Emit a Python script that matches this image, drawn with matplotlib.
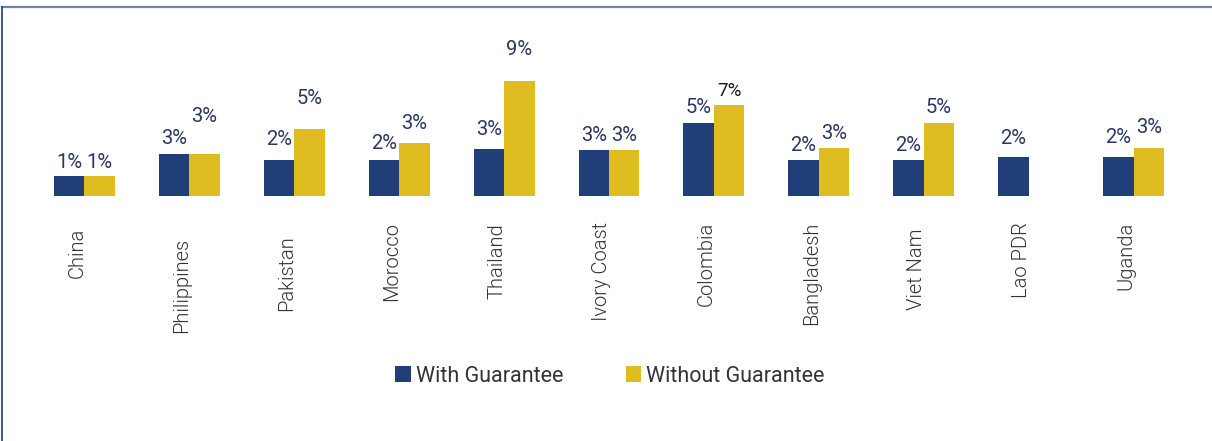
import numpy as np
import matplotlib
matplotlib.use("Agg")
import matplotlib.pyplot as plt
from matplotlib import transforms
from matplotlib.lines import Line2D
from matplotlib.patches import Patch
from matplotlib import font_manager

# default-rate estimates by country (%), with and without guarantee
countries = ["China", "Philippines", "Pakistan", "Morocco", "Thailand", "Ivory Coast",
             "Colombia", "Bangladesh", "Viet Nam", "Lao PDR", "Uganda"]
with_guarantee = [0.69, 2.52, 2.01, 2.01, 2.96, 2.85, 5.13, 2.01, 2.01, 2.26, 2.26]
without_guarantee = [0.69, 2.52, 4.62, 3.44, 8.67, 2.85, 6.65, 3.02, 5.13, np.nan, 3.02]

# label lift above each bar (px) and vertical nudges for category names (px)
with_label_lift = [13, 15, 21, 17, 19, 15, 15, 15, 15, 19, 20]
without_label_lift = [13, 37, 31, 20, 32, 15, 14, 15, 15, 0, 21]
name_drop = [6, 16, 13, 0, 1, 0, 0, 0, 6, 0, 0]

NAVY = "#203f79"
GOLD = "#dfbd21"
LABEL_CLR = "#2a3663"

W, H, DPI = 1212, 441, 100
plt.rcParams["font.family"] = ["Roboto", "DejaVu Sans"]

fig = plt.figure(figsize=(W / DPI, H / DPI), dpi=DPI)
fig.patch.set_facecolor("white")

# plot area in pixels: x 32..1186, baseline at y=195.7, top at y=30
base = -1.0
px_per_pct = 11.86
ax_left, ax_right, ax_top, ax_base = 32, 1186, 30, 195.7
ax = fig.add_axes([ax_left / W, 1 - ax_base / H, (ax_right - ax_left) / W, (ax_base - ax_top) / H])
ax.set_xlim(-0.5, len(countries) - 0.5)
ax.set_ylim(base, base + (ax_base - ax_top) / px_per_pct)
ax.axis("off")

x = np.arange(len(countries))
bw = 0.29
wg = np.array(with_guarantee)
wog = np.array(without_guarantee)
ax.bar(x - bw / 2, wg - base, bottom=base, width=bw, color=NAVY, linewidth=0)
ax.bar(x + bw / 2, wog - base, bottom=base, width=bw, color=GOLD, linewidth=0)

pt = 72 / DPI
narrow = "Liberation Sans Narrow"
have_narrow = any(f.name == narrow for f in font_manager.fontManager.ttflist)

for i in range(len(countries)):
    ax.annotate(f"{wg[i]:.0f}%", (x[i] - bw / 2, wg[i]), xytext=(0, with_label_lift[i] * pt),
                textcoords="offset points", ha="center", va="center",
                fontsize=14.5, color=LABEL_CLR)
    if np.isnan(wog[i]):
        continue
    if countries[i] == "Colombia":
        # this one label was set in a narrow black face
        ax.annotate(f"{wog[i]:.0f}%", (x[i] + bw / 2, wog[i]), xytext=(0, without_label_lift[i] * pt),
                    textcoords="offset points", ha="center", va="center", fontsize=13.5,
                    color="#1a1a1a",
                    family=[narrow, "Roboto"] if have_narrow else ["Roboto"])
    else:
        ax.annotate(f"{wog[i]:.0f}%", (x[i] + bw / 2, wog[i]), xytext=(0, without_label_lift[i] * pt),
                    textcoords="offset points", ha="center", va="center",
                    fontsize=14.5, color=LABEL_CLR)

# rotated country names below the bars
trans = transforms.blended_transform_factory(ax.transData, fig.transFigure)
for i, name in enumerate(countries):
    ax.text(x[i] - 0.07, 1 - (222 + name_drop[i]) / H, name, rotation=90,
            ha="center", va="top", fontsize=14.5, fontweight=300,
            color="#333333", transform=trans, clip_on=False)

handles = [Patch(facecolor=NAVY, edgecolor="none", label="With Guarantee"),
           Patch(facecolor=GOLD, edgecolor="none", label="Without Guarantee")]
fig.legend(handles=handles, loc="center", bbox_to_anchor=(610 / W, 1 - 376 / H),
           ncol=2, frameon=False, fontsize=15.5, handlelength=0.7, handleheight=0.7,
           handletextpad=0.25, columnspacing=2.9, labelcolor="#333333")

# frame: top and left edges only
fig.add_artist(Line2D([2 / W, 1], [1 - 7 / H, 1 - 7 / H], color="#6a82ad", lw=1.6))
fig.add_artist(Line2D([2.5 / W, 2.5 / W], [0, 1 - 7 / H], color="#2b4a8a", lw=1.3))

fig.savefig("out.png", dpi=DPI, facecolor="white")
